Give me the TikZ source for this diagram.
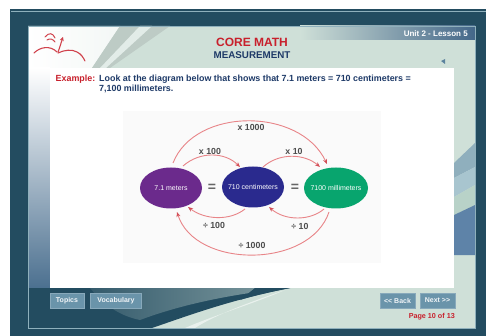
\documentclass[tikz,border=0pt]{standalone}
\usepackage{fontspec}
\setmainfont{Liberation Sans}
\usetikzlibrary{shapes.geometric,arrows.meta}
\definecolor{frameC}{HTML}{234C60}
\definecolor{panelC}{HTML}{CFE0D8}
\definecolor{lineC}{HTML}{8FB0BC}
\definecolor{redC}{HTML}{C8202C}
\definecolor{navyC}{HTML}{1E3A68}
\definecolor{arcC}{HTML}{E88488}
\definecolor{btnC}{HTML}{6A94AA}
\definecolor{purpleE}{HTML}{6B2A8C}
\definecolor{blueE}{HTML}{2A2A8E}
\definecolor{greenE}{HTML}{08A56E}
\definecolor{bandA}{HTML}{8FAFBD}
\definecolor{bandB}{HTML}{A8C5CF}
\definecolor{bandC}{HTML}{B8D2C8}
\definecolor{bandD}{HTML}{5E83A8}
\newcommand{\etext}[1]{\makebox[0pt]{#1}}
\tikzset{
  unitE/.style={ellipse,draw=none,minimum width=62pt,minimum height=41pt,inner sep=0pt,text=white,font=\fontsize{7}{8}\selectfont},
  arcL/.style={draw=arcC,line width=0.9pt,-{Stealth[length=5pt,width=4pt,color=redC!80]}},
  factor/.style={font=\bfseries\fontsize{8.8}{10}\selectfont,text=black!70,inner sep=0pt},
  eqs/.style={font=\bfseries\fontsize{14}{15}\selectfont,text=black!60,inner sep=0pt},
  btn/.style={fill=btnC,draw=btnC!80!white,line width=0.3pt,text=white!90!btnC,font=\bfseries\fontsize{7}{8}\selectfont,inner sep=0pt,minimum height=14.5pt}
}
\begin{document}
\begin{tikzpicture}[x=1pt,y=-1pt]
\useasboundingbox (0,0) rectangle (486,336);
\fill[white] (0,0) rectangle (486,336);
\fill[frameC] (10,9) rectangle (486,336);
\draw[lineC,line width=0.8pt] (11,11.5) -- (486,11.5);
\fill[panelC] (28,26) rectangle (475,328);
% top decoration
\shade[left color=white,right color=white!75!panelC] (28,26) -- (120,26) -- (92,68) -- (28,68) -- cycle;
\fill[gray!22!panelC] (120,26) -- (170,26) -- (110,68) -- (92,68) -- cycle;
\fill[white!40!panelC] (140,26) -- (152,26) -- (106,68) -- (100,68) -- cycle;
\shade[left color=panelC,right color=btnC!50!navyC] (300,26) rectangle (475,40);
% right bands
\fill[bandA] (454,163) -- (475,143) -- (475,167) -- (454,178) -- cycle;
\fill[bandB] (454,178) -- (475,167) -- (475,185) -- (454,197) -- cycle;
\fill[bandC] (454,197) -- (475,185) -- (475,205) -- (454,215) -- cycle;
\fill[bandD] (454,215) -- (475,205) -- (475,255) -- (454,255) -- cycle;
% left strip and bottom wave
\shade[top color=white,middle color=white!75!btnC,bottom color=btnC!60!navyC] (28,68) rectangle (50,288);
\fill[frameC] (28,288) -- (290,288) .. controls (230,300) and (190,315) .. (152,328) -- (28,328) -- cycle;
\shade[left color=frameC!90!panelC,right color=frameC!45!panelC] (90,288) -- (290,288) .. controls (230,294) and (180,305) .. (140,320) .. controls (115,315) and (100,300) .. (90,288) -- cycle;
\fill[frameC] (255,288) -- (290,288) .. controls (270,292) and (255,295) .. (240,300) -- cycle;
\fill[white!55!panelC] (185,328) .. controls (215,315) and (250,305) .. (285,290) .. controls (250,302) and (215,315) .. (195,328) -- cycle;
\draw[lineC,line width=0.6pt] (28,26) rectangle (475,328);
\fill[white] (50,68) rectangle (454,288);
% logo
\draw[redC!85,line width=1.1pt,line cap=round] (34,53) .. controls (40,47) and (50,45) .. (57,52);
\draw[redC!85,line width=1.1pt,line cap=round] (58,53) .. controls (64,50) and (72,49) .. (77,52) .. controls (81,54) and (83,57) .. (85,61);
\draw[redC!85,line width=1pt,line cap=round] (45,37) .. controls (49,32) and (53,33) .. (55,38);
\draw[redC!85,line width=1pt,line cap=round] (47,40) .. controls (50,38) and (53,39) .. (55,42);
\draw[redC!85,line width=1.1pt,line cap=round,-{Stealth[length=4pt,width=4pt]}] (58,52) .. controls (60,47) and (61,43) .. (63,37);
% titles
\node[font=\bfseries\fontsize{12}{14}\selectfont,text=redC,inner sep=0pt] (title) at (252,42.7) {CORE MATH};
\node[font=\bfseries\fontsize{9.8}{12}\selectfont,text=navyC,inner sep=0pt] (subtitle) at (252,55) {MEASUREMENT};
\node[anchor=east,font=\bfseries\fontsize{8}{9}\selectfont,text=white,inner sep=0pt] (unit) at (468,34) {Unit 2 - Lesson 5};
\fill[btnC!80!navyC] (441,61) -- (445,59) -- (445,64) -- cycle;
% example
\node[anchor=west,font=\bfseries\fontsize{8.9}{10}\selectfont,text=redC,inner sep=0pt] (ex) at (55.5,79) {Example:};
\node[anchor=north west,align=left,font=\bfseries\fontsize{8.9}{10.5}\selectfont,text=navyC,inner sep=0pt] (body) at (99,74.5) {Look at the diagram below that shows that 7.1 meters = 710 centimeters =\\7,100 millimeters.};
% diagram
\fill[black!2] (123,111) rectangle (381,263);
\node[unitE,fill=purpleE] (m) at (171,188) {\etext{7.1 meters}};
\node[unitE,fill=blueE] (c) at (253,187) {\etext{710 centimeters}};
\node[unitE,fill=greenE,minimum width=64pt] (mm) at (336,188) {\etext{7100 millimeters}};
\node[eqs] (e1) at (212,188) {=};
\node[eqs] (e2) at (295,188) {=};
\coordinate (a1) at (173,163); \coordinate (a2) at (327,164);
\coordinate (b1) at (183,166); \coordinate (b2) at (240,167);
\coordinate (c1) at (263,167); \coordinate (c2) at (320,167);
\coordinate (d1) at (245,209); \coordinate (d2) at (188,207);
\coordinate (f1) at (324,209); \coordinate (f2) at (269,207);
\coordinate (g1) at (329,212); \coordinate (g2) at (177,212);
\draw[arcL] (a1) .. controls (195,107) and (300,107) .. (a2);
\draw[arcL] (b1) .. controls (200,151) and (225,152) .. (b2);
\draw[arcL] (c1) .. controls (280,152) and (305,154) .. (c2);
\draw[arcL] (d1) .. controls (230,221) and (205,220) .. (d2);
\draw[arcL] (f1) .. controls (310,221) and (285,221) .. (f2);
\draw[arcL] (g1) .. controls (310,269) and (195,269) .. (g2);
\node[factor] (t1) at (251,127) {x 1000};
\node[factor] (t2) at (210,151) {x 100};
\node[factor] (t3) at (294,151) {x 10};
\node[factor] (t4) at (214,225) {÷ 100};
\node[factor] (t5) at (300,226) {÷ 10};
\node[factor] (t6) at (252,245) {÷ 1000};
% buttons
\node[btn,minimum width=34pt] (topics) at (67,300.5) {Topics};
\node[btn,minimum width=51pt] (vocab) at (116,300.5) {Vocabulary};
\node[btn,minimum width=35pt] (back) at (397.5,300.5) {<{}< Back};
\node[btn,minimum width=35pt] (next) at (437.5,300.5) {Next >{}>};
\node[anchor=east,font=\bfseries\fontsize{7.2}{8}\selectfont,text=redC,inner sep=0pt] (page) at (455,317) {Page 10 of 13};
\end{tikzpicture}
\end{document}
